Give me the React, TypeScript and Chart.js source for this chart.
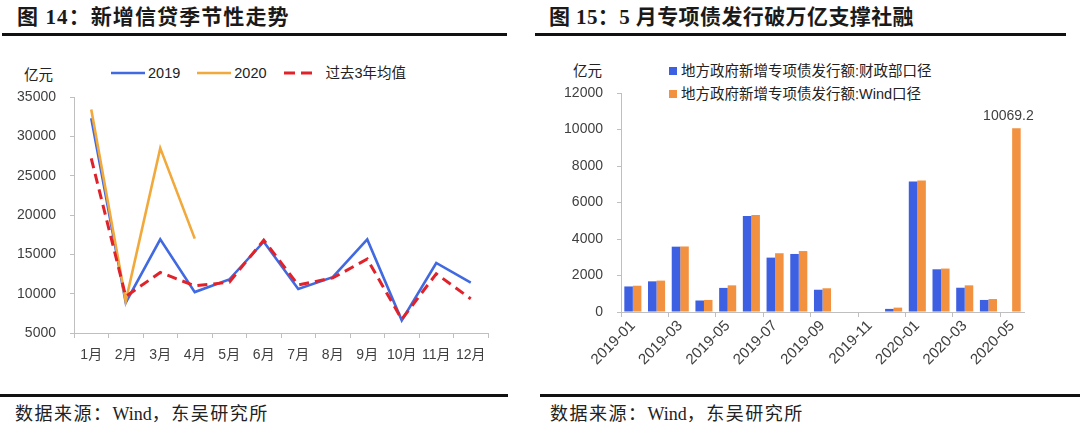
import React, { useEffect, useRef } from "react";
import { Chart, registerables } from "chart.js";

Chart.register(...registerables);

// ---------- Data: Figure 14 ----------
const months = ["1月", "2月", "3月", "4月", "5月", "6月", "7月", "8月", "9月", "10月", "11月", "12月"];
const loans2019 = [32300, 8858, 16900, 10200, 11800, 16600, 10600, 12100, 16900, 6613, 13900, 11400];
const loans2020 = [33400, 9057, 28500, 17000, null, null, null, null, null, null, null, null];
const avg3Years = [27200, 9650, 12700, 11000, 11450, 16800, 11100, 12000, 14400, 6740, 12530, 9350];
const leftAxisMin = 5000;
const leftAxisMax = 35000;
const leftAxisStep = 5000;

// ---------- Data: Figure 15 ----------
const bondMonths = [
  "2019-01", "2019-02", "2019-03", "2019-04", "2019-05", "2019-06", "2019-07", "2019-08", "2019-09",
  "2019-10", "2019-11", "2019-12", "2020-01", "2020-02", "2020-03", "2020-04", "2020-05",
];
const mofIssue = [1400, 1680, 3580, 630, 1320, 5260, 2980, 3180, 1220, 0, 0, 170, 7150, 2340, 1330, 660, null];
const windIssue = [1440, 1720, 3590, 660, 1460, 5310, 3220, 3340, 1300, 0, 0, 240, 7200, 2380, 1460, 710, 10069.2];
const rightAxisMin = 0;
const rightAxisMax = 12000;
const rightAxisStep = 2000;
const annotatedIndex = 16;
const annotatedText = "10069.2";

const SANS = "'Liberation Sans', Arial, 'Noto Sans CJK SC', sans-serif";
const SERIF = "'Liberation Serif', 'Times New Roman', 'Noto Sans CJK SC', serif";
const AXIS = "#BFBFBF";
const TEXT = "#404040";

const C2019 = "#4169E1";
const C2020 = "#F2A93B";
const CAVG = "#E0222B";
const CMOF = "#3D60E3";
const CWIND = "#F2913F";

const plainNumber = (v: any) => String(v);

function LineChart() {
  const ref = useRef<HTMLCanvasElement | null>(null);
  useEffect(() => {
    if (!ref.current) return;
    const chart = new Chart(ref.current, {
      type: "line",
      data: {
        labels: months,
        datasets: [
          { label: "2019", data: loans2019, borderColor: C2019, borderWidth: 2.6, pointRadius: 0, tension: 0, order: 3 },
          { label: "2020", data: loans2020, borderColor: C2020, borderWidth: 2.6, pointRadius: 0, tension: 0, order: 2 },
          { label: "过去3年均值", data: avg3Years, borderColor: CAVG, borderWidth: 3, borderDash: [10, 6], pointRadius: 0, tension: 0, order: 1 },
        ],
      },
      options: {
        animation: false,
        responsive: false,
        maintainAspectRatio: false,
        layout: { padding: { top: 37, left: 0, right: 22, bottom: 7 } },
        plugins: { legend: { display: false }, tooltip: { enabled: false } },
        scales: {
          x: {
            offset: true,
            grid: { offset: true, drawOnChartArea: false, drawTicks: true, tickLength: 5, color: AXIS },
            border: { color: AXIS, width: 1 },
            ticks: { autoSkip: false, maxRotation: 0, color: TEXT, padding: 9, font: { family: SANS, size: 14 } },
            afterFit: (s: any) => { s.height = 40; },
          },
          y: {
            min: leftAxisMin,
            max: leftAxisMax,
            ticks: { stepSize: leftAxisStep, color: TEXT, padding: 14, font: { family: SANS, size: 14 }, callback: plainNumber },
            grid: { drawOnChartArea: false, drawTicks: true, tickLength: 4, color: AXIS },
            border: { color: AXIS, width: 1 },
            afterFit: (s: any) => { s.width = 74; },
          },
        },
      },
    });
    return () => chart.destroy();
  }, []);
  return <canvas ref={ref} width={510} height={320} style={{ position: "absolute", left: 0, top: 60, width: 510, height: 320 }} />;
}

const barLabelPlugin = {
  id: "barLabel",
  afterDatasetsDraw(chart: any) {
    const meta = chart.getDatasetMeta(1);
    const el = meta.data[annotatedIndex];
    if (!el) return;
    const ctx = chart.ctx;
    ctx.save();
    ctx.font = `14px ${SANS}`;
    ctx.fillStyle = TEXT;
    ctx.textAlign = "center";
    ctx.textBaseline = "bottom";
    ctx.fillText(annotatedText, el.x - 8, el.y - 5);
    ctx.restore();
  },
};

function BarChart() {
  const ref = useRef<HTMLCanvasElement | null>(null);
  useEffect(() => {
    if (!ref.current) return;
    const chart = new Chart(ref.current, {
      type: "bar",
      data: {
        labels: bondMonths,
        datasets: [
          { label: "地方政府新增专项债发行额:财政部口径", data: mofIssue, backgroundColor: CMOF, barPercentage: 1, categoryPercentage: 0.72 },
          { label: "地方政府新增专项债发行额:Wind口径", data: windIssue, backgroundColor: CWIND, barPercentage: 1, categoryPercentage: 0.72 },
        ],
      },
      options: {
        animation: false,
        responsive: false,
        maintainAspectRatio: false,
        layout: { padding: { top: 33, left: 0, right: 56, bottom: 8 } },
        plugins: { legend: { display: false }, tooltip: { enabled: false } },
        scales: {
          x: {
            grid: {
              offset: true,
              drawOnChartArea: false,
              drawTicks: true,
              tickLength: 5,
              color: (c: any) => (typeof c.index === "number" && c.index % 2 === 0 ? AXIS : "rgba(0,0,0,0)"),
            },
            border: { color: AXIS, width: 1 },
            ticks: {
              autoSkip: false,
              minRotation: 45,
              maxRotation: 45,
              color: TEXT,
              padding: 0,
              font: { family: SANS, size: 15 },
              callback: (_v: any, i: number) => (i % 2 === 0 ? bondMonths[i] : ""),
            },
            afterFit: (s: any) => { s.height = 70; },
          },
          y: {
            min: rightAxisMin,
            max: rightAxisMax,
            ticks: { stepSize: rightAxisStep, color: TEXT, padding: 14, font: { family: SANS, size: 14 }, callback: plainNumber },
            grid: { drawOnChartArea: false, drawTicks: true, tickLength: 4, color: AXIS },
            border: { color: AXIS, width: 1 },
            afterFit: (s: any) => { s.width = 81; },
          },
        },
      },
      plugins: [barLabelPlugin],
    });
    return () => chart.destroy();
  }, []);
  return <canvas ref={ref} width={540} height={330} style={{ position: "absolute", left: 540, top: 60, width: 540, height: 330 }} />;
}

const abs = (s: React.CSSProperties): React.CSSProperties => ({ position: "absolute", ...s });

function LineSwatch({ color, dash }: { color: string; dash?: string }) {
  return (
    <svg width={34} height={6} style={{ display: "inline-block", verticalAlign: "middle" }}>
      <line x1={0} y1={3} x2={34} y2={3} stroke={color} strokeWidth={dash ? 3 : 2.6} strokeDasharray={dash} />
    </svg>
  );
}

export default function App() {
  const legendText: React.CSSProperties = { font: `14.5px ${SANS}`, color: "#222", whiteSpace: "nowrap", lineHeight: "18px" };
  const sourceText: React.CSSProperties = { font: `18px ${SERIF}`, color: "#222", whiteSpace: "nowrap", lineHeight: "24px" };
  return (
    <div style={{ position: "fixed", left: 0, top: 0, width: 1080, height: 428, background: "#fff", overflow: "hidden" }}>
      {/* titles */}
      <div style={abs({ left: 17, top: 3, font: `bold 21px ${SERIF}`, letterSpacing: "1.1px", color: "#1a1a1a", whiteSpace: "nowrap", lineHeight: "28px" })}>
        图 14：新增信贷季节性走势
      </div>
      <div style={abs({ left: 549, top: 3, font: `bold 21px ${SERIF}`, letterSpacing: "0.4px", color: "#1a1a1a", whiteSpace: "nowrap", lineHeight: "28px" })}>
        图 15：5 月专项债发行破万亿支撑社融
      </div>
      <div style={abs({ left: 2, top: 33, width: 505, height: 3, background: "#111" })} />
      <div style={abs({ left: 535, top: 33, width: 531, height: 3, background: "#111" })} />

      {/* left chart unit + legend */}
      <div style={abs({ left: 24, top: 66, ...legendText })}>亿元</div>
      <div style={abs({ left: 111, top: 64, ...legendText, display: "flex", alignItems: "center" })}>
        <LineSwatch color={C2019} />
        <span style={{ marginLeft: 3 }}>2019</span>
        <span style={{ width: 17, display: "inline-block" }} />
        <LineSwatch color={C2020} />
        <span style={{ marginLeft: 3 }}>2020</span>
        <span style={{ width: 17, display: "inline-block" }} />
        <LineSwatch color={CAVG} dash="11 6" />
        <span style={{ marginLeft: 8 }}>过去3年均值</span>
      </div>

      {/* right chart unit + legend */}
      <div style={abs({ left: 573, top: 62, ...legendText })}>亿元</div>
      <div style={abs({ left: 669, top: 62, ...legendText })}>
        <div style={{ display: "flex", alignItems: "center" }}>
          <span style={{ width: 8, height: 8, background: CMOF, display: "inline-block", marginRight: 4 }} />
          地方政府新增专项债发行额:财政部口径
        </div>
        <div style={{ display: "flex", alignItems: "center", marginTop: 5 }}>
          <span style={{ width: 8, height: 8, background: CWIND, display: "inline-block", marginRight: 4 }} />
          地方政府新增专项债发行额:Wind口径
        </div>
      </div>

      <LineChart />
      <BarChart />

      {/* bottom rules + source */}
      <div style={abs({ left: 0, top: 394, width: 508, height: 3, background: "#111" })} />
      <div style={abs({ left: 540, top: 394, width: 540, height: 3, background: "#111" })} />
      <div style={abs({ left: 15, top: 402, ...sourceText })}>
        <span style={{ letterSpacing: "1.5px" }}>数据来源：</span>Wind<span style={{ letterSpacing: "1.5px" }}>，东吴研究所</span>
      </div>
      <div style={abs({ left: 550, top: 402, ...sourceText })}>
        <span style={{ letterSpacing: "1.5px" }}>数据来源：</span>Wind<span style={{ letterSpacing: "1.5px" }}>，东吴研究所</span>
      </div>
    </div>
  );
}
